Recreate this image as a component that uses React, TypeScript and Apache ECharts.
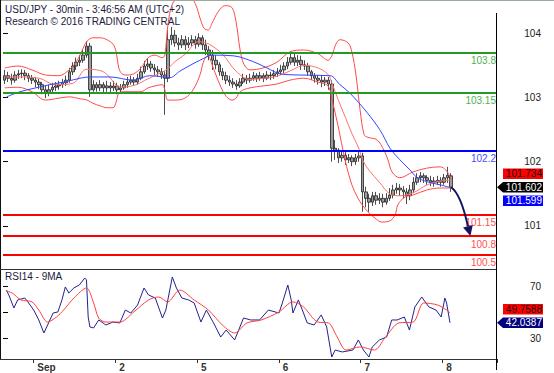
import React, { useEffect, useRef } from 'react';
import * as echarts from 'echarts';

// ---------- data ----------
const dayNames = ['Aug 31', 'Sep 1', 'Sep 2', 'Sep 5', 'Sep 6', 'Sep 7', 'Sep 8'];
const dayTickLabels = ['Sep', '2', '5', '6', '7', '8'];
const firstDayStartHour = 15;
const lastDayEndHour = 15;

// hourly bars: [open, close, low, high]
const candles = [
  [103.27, 103.34, 103.21, 103.43], [103.34, 103.30, 103.24, 103.40], [103.30, 103.27, 103.20, 103.37],
  [103.27, 103.35, 103.23, 103.41], [103.35, 103.37, 103.29, 103.43], [103.37, 103.38, 103.30, 103.44],
  [103.38, 103.34, 103.27, 103.43], [103.34, 103.30, 103.24, 103.38], [103.30, 103.27, 103.21, 103.35],
  [103.27, 103.24, 103.16, 103.32], [103.24, 103.20, 103.13, 103.29], [103.20, 103.12, 103.05, 103.24],
  [103.12, 103.07, 102.99, 103.18], [103.07, 103.12, 103.02, 103.20], [103.12, 103.16, 103.07, 103.23],
  [103.16, 103.18, 103.10, 103.24], [103.18, 103.20, 103.12, 103.26], [103.20, 103.23, 103.15, 103.29],
  [103.23, 103.27, 103.18, 103.34], [103.27, 103.40, 103.23, 103.46], [103.40, 103.49, 103.35, 103.55],
  [103.49, 103.55, 103.43, 103.62], [103.55, 103.58, 103.49, 103.66], [103.58, 103.66, 103.54, 103.74],
  [103.66, 103.80, 103.62, 103.88], [103.80, 103.12, 103.01, 103.85], [103.12, 103.20, 103.09, 103.27],
  [103.20, 103.15, 103.09, 103.24], [103.15, 103.20, 103.10, 103.27], [103.20, 103.15, 103.07, 103.24],
  [103.15, 103.18, 103.09, 103.26], [103.18, 103.15, 103.07, 103.24], [103.15, 103.18, 103.10, 103.26],
  [103.18, 103.12, 103.05, 103.23], [103.12, 103.15, 103.07, 103.21], [103.15, 103.20, 103.12, 103.26],
  [103.20, 103.24, 103.15, 103.32], [103.24, 103.27, 103.20, 103.34], [103.27, 103.24, 103.18, 103.32],
  [103.24, 103.30, 103.20, 103.37], [103.30, 103.40, 103.27, 103.48], [103.40, 103.49, 103.37, 103.57],
  [103.49, 103.52, 103.43, 103.60], [103.52, 103.46, 103.40, 103.57], [103.46, 103.43, 103.35, 103.52],
  [103.43, 103.40, 103.32, 103.49], [103.40, 103.35, 103.29, 103.46], [103.35, 103.30, 102.73, 103.41],
  [103.30, 103.90, 103.24, 104.05], [103.90, 103.97, 103.82, 104.10], [103.97, 103.85, 103.79, 104.05],
  [103.85, 103.82, 103.74, 103.93], [103.82, 103.90, 103.77, 103.97], [103.90, 103.82, 103.74, 103.96],
  [103.82, 103.85, 103.77, 103.94], [103.85, 103.90, 103.80, 103.97], [103.90, 103.83, 103.76, 103.96],
  [103.83, 103.93, 103.79, 104.00], [103.93, 103.82, 103.74, 103.97], [103.82, 103.74, 103.66, 103.90],
  [103.74, 103.66, 103.58, 103.80], [103.66, 103.58, 103.43, 103.74], [103.58, 103.51, 103.44, 103.66],
  [103.51, 103.40, 103.34, 103.55], [103.40, 103.34, 103.27, 103.46], [103.34, 103.27, 103.21, 103.40],
  [103.27, 103.24, 103.18, 103.34], [103.24, 103.21, 103.15, 103.30], [103.21, 103.18, 103.12, 103.27],
  [103.18, 103.24, 103.15, 103.30], [103.24, 103.30, 103.21, 103.37], [103.30, 103.27, 103.21, 103.35],
  [103.27, 103.30, 103.23, 103.37], [103.30, 103.34, 103.26, 103.40], [103.34, 103.30, 103.24, 103.38],
  [103.30, 103.34, 103.26, 103.40], [103.34, 103.30, 103.24, 103.38], [103.30, 103.35, 103.27, 103.41],
  [103.35, 103.34, 103.27, 103.40], [103.34, 103.37, 103.29, 103.43], [103.37, 103.40, 103.32, 103.46],
  [103.40, 103.43, 103.35, 103.51], [103.43, 103.49, 103.38, 103.55], [103.49, 103.55, 103.44, 103.63],
  [103.55, 103.62, 103.51, 103.71], [103.62, 103.55, 103.49, 103.68], [103.55, 103.58, 103.49, 103.66],
  [103.58, 103.51, 103.43, 103.65], [103.51, 103.49, 103.43, 103.58], [103.49, 103.40, 103.34, 103.54],
  [103.40, 103.34, 103.27, 103.43], [103.34, 103.30, 103.23, 103.38], [103.30, 103.27, 103.20, 103.35],
  [103.27, 103.24, 103.16, 103.34], [103.24, 103.27, 103.18, 103.32], [103.27, 103.21, 103.12, 103.32],
  [103.21, 102.21, 102.00, 103.27], [102.21, 102.18, 102.03, 102.34], [102.18, 102.06, 101.98, 102.21],
  [102.06, 102.10, 102.00, 102.17], [102.10, 102.03, 101.95, 102.15], [102.03, 102.06, 101.98, 102.12],
  [102.06, 102.00, 101.93, 102.10], [102.00, 102.06, 101.95, 102.12], [102.06, 102.09, 102.00, 102.15],
  [102.09, 101.53, 101.22, 102.14], [101.53, 101.43, 101.29, 101.61], [101.43, 101.37, 101.22, 101.50],
  [101.37, 101.47, 101.31, 101.53], [101.47, 101.40, 101.33, 101.53], [101.40, 101.43, 101.34, 101.51],
  [101.43, 101.37, 101.29, 101.50], [101.37, 101.43, 101.33, 101.51], [101.43, 101.48, 101.39, 101.59],
  [101.48, 101.56, 101.43, 101.64], [101.56, 101.59, 101.50, 101.67], [101.59, 101.56, 101.47, 101.65],
  [101.56, 101.53, 101.43, 101.62], [101.53, 101.47, 101.34, 101.59], [101.47, 101.56, 101.40, 101.64],
  [101.56, 101.68, 101.51, 101.76], [101.68, 101.75, 101.64, 101.82], [101.75, 101.78, 101.68, 101.84],
  [101.78, 101.75, 101.67, 101.82], [101.75, 101.71, 101.64, 101.79], [101.71, 101.68, 101.62, 101.78],
  [101.70, 101.68, 101.61, 101.76], [101.68, 101.71, 101.64, 101.78], [101.71, 101.68, 101.61, 101.76],
  [101.68, 101.75, 101.64, 101.81], [101.75, 101.79, 101.67, 101.92], [101.78, 101.602, 101.53, 101.82],
];

// indicator lines: [bar position (hours from first bar), value]
const bbUpper = [
  [0.5, 103.46], [4.4, 103.49], [8.5, 103.43], [12.5, 103.35], [16.4, 103.34], [19.4, 103.43], [21.4, 103.55],
  [22.6, 103.66], [23.8, 103.80], [24.7, 103.88], [26.4, 103.93], [28.5, 103.93], [30.5, 103.90], [32.3, 103.83],
  [33.2, 103.71], [34.0, 103.46], [34.9, 103.37], [36.4, 103.35], [38.4, 103.37], [40.5, 103.46], [42.6, 103.62],
  [44.6, 103.66], [46.7, 103.62], [47.5, 103.66], [48.4, 104.13], [49.6, 104.44], [51.4, 104.55], [54.9, 104.57],
  [56.6, 104.44], [57.8, 104.24], [59.0, 104.08], [60.2, 104.05], [61.3, 104.15], [63.1, 104.33], [65.2, 104.43],
  [67.2, 104.40], [68.4, 104.18], [69.6, 103.74], [70.7, 103.52], [72.5, 103.43], [76.3, 103.46], [80.4, 103.55],
  [84.2, 103.71], [88.3, 103.74], [92.5, 103.68], [95.4, 103.58], [96.6, 103.66], [97.7, 103.83], [98.9, 103.90],
  [101.3, 103.85], [102.4, 103.71], [103.6, 103.35], [104.8, 102.81], [106.0, 102.42], [107.1, 102.38],
  [109.8, 102.34], [111.8, 102.18], [113.0, 102.03], [114.2, 101.84], [116.5, 101.75], [120.3, 101.84],
  [124.4, 101.90], [128.3, 101.92], [130.0, 101.87], [131.5, 101.734],
];
const bbMiddle = [
  [0.5, 103.32], [4.4, 103.32], [10.5, 103.30], [15.5, 103.20], [20.5, 103.22], [24.5, 103.44], [28.5, 103.42],
  [30.5, 103.36], [34.5, 103.16], [38.5, 103.19], [42.5, 103.29], [46.5, 103.39], [48.4, 103.45], [50.5, 103.56],
  [53.4, 103.67], [57.5, 103.87], [60.5, 103.83], [64.5, 103.67], [68.4, 103.41], [72.5, 103.28], [76.5, 103.30],
  [80.4, 103.33], [84.5, 103.42], [88.5, 103.50], [92.5, 103.46], [95.4, 103.36], [96.5, 103.23], [98.5, 102.95],
  [100.5, 102.69], [102.4, 102.44], [104.5, 102.20], [105.5, 102.03], [107.4, 101.87], [110.5, 101.68],
  [113.5, 101.50], [116.5, 101.47], [120.5, 101.52], [124.5, 101.64], [128.4, 101.70], [131.5, 101.71],
];
const bbLower = [
  [0.5, 103.15], [4.4, 103.16], [8.5, 103.09], [12.5, 102.96], [16.4, 102.99], [19.4, 103.01], [22.6, 102.98],
  [24.7, 102.96], [26.4, 102.91], [28.5, 102.87], [30.5, 102.84], [32.3, 102.84], [33.2, 102.93], [34.0, 103.07],
  [35.5, 103.09], [38.4, 103.09], [40.5, 103.09], [42.6, 103.15], [44.6, 103.18], [46.7, 103.20], [47.5, 103.12],
  [48.4, 102.96], [50.5, 102.96], [53.4, 102.99], [55.8, 103.12], [57.8, 103.35], [59.0, 103.58], [60.2, 103.65],
  [61.3, 103.52], [63.1, 103.27], [65.2, 103.04], [67.2, 102.96], [68.4, 102.99], [69.6, 103.09], [72.5, 103.15],
  [76.3, 103.18], [80.4, 103.21], [84.2, 103.27], [88.3, 103.30], [92.5, 103.24], [95.4, 103.18], [96.6, 102.96],
  [98.3, 102.57], [100.4, 102.03], [102.4, 101.64], [104.2, 101.43], [105.4, 101.33], [107.1, 101.22],
  [109.2, 101.12], [111.2, 101.06], [113.6, 101.08], [115.1, 101.17], [115.9, 101.33], [118.0, 101.45],
  [120.3, 101.48], [124.4, 101.56], [128.3, 101.59], [131.5, 101.59],
];
const maLine = [
  [1.1, 103.01], [5.0, 103.09], [8.8, 103.14], [13.8, 103.20], [18.7, 103.25], [22.6, 103.30], [25.5, 103.32],
  [31.4, 103.32], [38.2, 103.27], [43.1, 103.34], [47.0, 103.32], [49.0, 103.31], [51.9, 103.41], [54.9, 103.50],
  [57.8, 103.58], [61.6, 103.66], [67.5, 103.65], [73.4, 103.56], [77.5, 103.46], [81.3, 103.37], [87.2, 103.35],
  [96.0, 103.34], [98.9, 103.20], [101.8, 103.07], [106.8, 102.77], [110.7, 102.49], [113.6, 102.21],
  [116.5, 102.03], [119.5, 101.87], [121.4, 101.76], [124.4, 101.69], [128.3, 101.64], [131.2, 101.599],
];
const rsi = [
  [1.0, 67.4], [1.7, 63.6], [3.2, 53.5], [4.3, 59.7], [6.4, 61.2], [7.3, 58.2], [9.0, 51.9], [10.5, 44.2],
  [12.0, 34.1], [13.1, 40.3], [14.7, 49.6], [16.1, 50.4], [17.3, 59.7], [18.3, 69.8], [19.3, 65.1], [20.8, 69],
  [22.4, 71.3], [24.0, 76.7], [24.5, 75.2], [25.0, 46.5], [25.5, 38.8], [26.6, 38], [28.1, 44.2], [30.2, 40.3],
  [32.3, 42.6], [34.3, 41.9], [35.9, 51.9], [37.5, 49.6], [39.5, 55.8], [41.4, 69], [42.7, 63.6], [44.7, 61.2],
  [46.8, 45.7], [47.8, 51.9], [49.7, 77.5], [50.9, 69], [52.5, 61.2], [54.5, 59.7], [56.1, 57.4], [58.1, 42.6],
  [59.7, 51.9], [61.8, 41.9], [63.9, 31], [65.5, 36.4], [68.0, 28.7], [70.6, 45.7], [72.7, 44.2], [75.3, 44.2],
  [77.9, 51.9], [81.0, 49.6], [82.0, 57.4], [83.6, 71.3], [84.6, 59.7], [85.1, 49.6], [86.7, 59.7], [88.2, 49.6],
  [89.3, 41.9], [91.3, 40.3], [93.4, 48.1], [95.0, 38.8], [96.5, 15.5], [97.5, 20.9], [99.6, 19.4], [102.7, 20.9],
  [104.3, 28.7], [105.8, 20.9], [107.4, 15.5], [108.4, 23.3], [110.5, 28.7], [112.6, 31], [114.1, 44.2],
  [115.7, 44.2], [117.8, 46.5], [119.3, 36.4], [120.9, 54.3], [122.9, 62], [125.0, 54.3], [127.1, 51.9],
  [128.6, 46.5], [129.7, 61.2], [130.2, 57.4], [131.2, 42.0387],
];
const rsiMa = [
  [1.0, 66.7], [2.7, 65.1], [5.3, 59.7], [8.5, 58.2], [10.5, 51.9], [13.1, 42.6], [15.7, 46.5], [17.8, 51.9],
  [20.8, 61.2], [24.5, 69], [26.6, 57.4], [28.1, 45.7], [30.2, 42.6], [34.3, 42.6], [38.4, 50.4], [42.7, 59.7],
  [45.7, 62], [48.3, 58.2], [51.9, 67.4], [56.1, 59.7], [60.3, 51.9], [64.4, 40.3], [68.0, 34.1], [71.6, 41.9],
  [75.8, 44.2], [81.0, 50.4], [85.1, 58.2], [88.2, 54.3], [92.4, 42.6], [95.5, 41.9], [98.1, 31], [100.7, 20.9],
  [104.8, 23.3], [109.0, 20.9], [112.1, 30.2], [116.2, 41.9], [120.4, 42.6], [123.5, 57.4], [127.6, 55.8],
  [130.2, 51.9], [131.2, 49.7588],
];

const levelValues = [103.8, 103.15, 102.2, 101.15, 100.8, 100.5];
const levelLabels = ['103.8', '103.15', '102.2', '101.15', '100.8', '100.5'];
const levelKinds = ['resistance', 'resistance', 'pivot', 'support', 'support', 'support'];

const priceTicks = [101, 102, 103, 104];
const rsiTicks = [30, 50, 70];
const rsiTickLabels = [30, 70];

const lastClose = 101.602;
const lastUpper = 101.734;
const lastMa = 101.599;
const lastRsi = 42.0387;
const lastRsiMa = 49.7588;
const projectionTarget = 100.8;
const projectionSlot = 137.2;

const titleLine1 = 'USD/JPY - 30min - 3:46:56 AM (UTC+2)';
const titleLine2 = 'Research © 2016 TRADING CENTRAL';
const rsiTitle = 'RSI14 - 9MA';

// ---------- categories ----------
const categories: string[] = [];
dayNames.forEach((d, k) => {
  const h0 = k === 0 ? firstDayStartHour : 0;
  const h1 = k === dayNames.length - 1 ? lastDayEndHour : 23;
  for (let h = h0; h <= h1; h++) categories.push(`${d} ${String(h).padStart(2, '0')}:00`);
});
const isDayStart = (v: string) => v.endsWith(' 00:00');
const dayLabel = (v: string) => {
  const k = dayNames.indexOf(v.slice(0, v.length - 6));
  return k >= 1 ? dayTickLabels[k - 1] : '';
};

const FONT = '"Liberation Sans", Arial, Helvetica, sans-serif';
const levelStyle: Record<string, { line: string; text: string }> = {
  resistance: { line: '#239b23', text: '#4fb24f' },
  pivot: { line: '#0000ff', text: '#4b4bff' },
  support: { line: '#ff0000', text: '#ff5050' },
};

export default function App() {
  const ref = useRef<HTMLDivElement>(null);
  useEffect(() => {
    document.body.style.margin = '0';
    if (!ref.current) return;
    const chart = echarts.init(ref.current, undefined, { renderer: 'svg' });
    const N = categories.length;
    const bandLine = (data: number[][], color: string) => ({
      type: 'line', xAxisIndex: 1, yAxisIndex: 0, data, smooth: 0.35, symbol: 'none', silent: true,
      lineStyle: { color, width: 1 }, z: 3,
    });
    const option: any = {
      animation: false,
      textStyle: { fontFamily: FONT },
      grid: [
        { left: 3, right: 57, top: 1, bottom: 104 },
        { left: 3, right: 57, top: 269, bottom: 14 },
      ],
      xAxis: [
        { type: 'category', gridIndex: 0, data: categories, boundaryGap: true, show: false },
        { type: 'value', gridIndex: 0, min: 0, max: N, show: false },
        {
          type: 'category', gridIndex: 1, data: categories, boundaryGap: true,
          axisLine: { show: false },
          axisTick: { show: true, length: 4, interval: (_i: number, v: string) => isDayStart(v), lineStyle: { color: '#333' } },
          axisLabel: {
            interval: (_i: number, v: string) => isDayStart(v), formatter: (v: string) => dayLabel(v),
            align: 'left', padding: [0, 0, 0, 2], margin: 3, fontSize: 10, fontWeight: 'bold', color: '#333',
          },
          splitLine: { show: false },
        },
        { type: 'value', gridIndex: 1, min: 0, max: N, show: false },
      ],
      yAxis: [
        {
          type: 'value', gridIndex: 0, position: 'right', min: 100.329, max: 104.503, scale: true,
          axisLine: { show: false },
          axisTick: { show: true, length: 5, customValues: priceTicks, lineStyle: { color: '#000' } },
          axisLabel: { customValues: priceTicks, align: 'right', margin: 44, fontSize: 10, color: '#222' },
          splitLine: { show: false },
        },
        { type: 'value', gridIndex: 0, min: 100.26, max: 104.646, show: false, scale: true },
        {
          type: 'value', gridIndex: 1, position: 'right', min: 13.95, max: 83.7,
          axisLine: { show: false },
          axisTick: { show: true, length: 5, customValues: rsiTicks, lineStyle: { color: '#000' } },
          axisLabel: { customValues: rsiTickLabels, align: 'right', margin: 44, fontSize: 10, color: '#222' },
          splitLine: { show: false },
        },
      ],
      series: [
        {
          type: 'candlestick', xAxisIndex: 0, yAxisIndex: 0, data: candles, barWidth: 3, silent: true,
          itemStyle: { color: '#9c9c9c', color0: '#9c9c9c', borderColor: '#202020', borderColor0: '#202020', borderWidth: 0.8 },
          z: 2,
        },
        bandLine(bbUpper, '#ff4a4a'),
        bandLine(bbMiddle, '#ff7070'),
        bandLine(bbLower, '#ff4a4a'),
        {
          type: 'line', xAxisIndex: 1, yAxisIndex: 0, data: maLine, smooth: 0.35, symbol: 'none', silent: true,
          lineStyle: { color: '#3347ff', width: 1 }, z: 4,
        },
        {
          type: 'line', xAxisIndex: 1, yAxisIndex: 1, data: [], silent: true, z: 5,
          markLine: {
            silent: true, symbol: ['none', 'none'], animation: false,
            data: levelValues.map((v, k) => ({
              yAxis: v,
              lineStyle: { color: levelStyle[levelKinds[k]].line, width: 2, type: 'solid' },
              label: {
                show: true, position: 'insideEndBottom', formatter: levelLabels[k], distance: [1, 3],
                color: levelStyle[levelKinds[k]].text, fontSize: 10, fontFamily: FONT,
              },
            })),
          },
        },
        {
          type: 'line', xAxisIndex: 3, yAxisIndex: 2, data: rsi, symbol: 'none', silent: true,
          lineStyle: { color: '#22228c', width: 1 }, z: 3,
        },
        {
          type: 'line', xAxisIndex: 3, yAxisIndex: 2, data: rsiMa, smooth: 0.3, symbol: 'none', silent: true,
          lineStyle: { color: '#ff4040', width: 1 }, z: 4,
        },
      ],
    };
    chart.setOption(option);

    // pixel positions derived from the chart's own scales
    const px = (seriesIndex: number, pt: number[]) => chart.convertToPixel({ seriesIndex }, pt) as number[];
    const lastIdx = candles.length - 1;
    const yClose = px(0, [lastIdx, lastClose])[1];
    const yUpper = px(0, [lastIdx, lastUpper])[1];
    const yMa = px(0, [lastIdx, lastMa])[1];
    const start = px(0, [lastIdx, lastClose]);
    const tip = px(5, [projectionSlot, projectionTarget]);
    const yRsi = px(6, [131.2, lastRsi])[1];
    const yRsiMa = px(6, [131.2, lastRsiMa])[1];

    const axisX = 496.5, boxL = 503, boxR = 543, bh = 10.5, gap = 13.5;
    const box = (yc: number, fill: string, textColor: string, text: string, pointer: boolean) => {
      const els: any[] = [];
      if (pointer) {
        els.push({
          type: 'polygon', z: 100,
          shape: { points: [[axisX + 0.5, yc], [boxL, yc - bh / 2], [boxR, yc - bh / 2], [boxR, yc + bh / 2], [boxL, yc + bh / 2]] },
          style: { fill },
        });
      } else {
        els.push({ type: 'rect', z: 100, shape: { x: boxL, y: yc - bh / 2, width: boxR - boxL, height: bh }, style: { fill } });
      }
      els.push({
        type: 'text', z: 101, x: boxR - 1, y: yc,
        style: { text, fill: textColor, font: `10px ${FONT}`, textAlign: 'right', align: 'right', textVerticalAlign: 'middle', verticalAlign: 'middle' },
      });
      return els;
    };

    // arrow
    const dir = [0.25, 0.968];
    const E = [tip[0] - 10 * dir[0], tip[1] - 10 * dir[1]];
    const cp1 = [start[0] + 0.35 * (E[0] - start[0]), start[1] + 0.1 * (E[1] - start[1])];
    const cp2 = [start[0] + 0.72 * (E[0] - start[0]), start[1] + 0.45 * (E[1] - start[1])];
    const perp = [dir[1], -dir[0]];

    const line = (x1: number, y1: number, x2: number, y2: number, stroke: string) => ({
      type: 'line', z: 50, shape: { x1, y1, x2, y2 }, style: { stroke, lineWidth: 1 }, silent: true,
    });

    const graphic: any[] = [
      line(0, 0.5, 554, 0.5, '#9aab9a'),
      line(0.5, 0, 0.5, 359.5, '#111'),
      line(0, 269.5, 497, 269.5, '#333'),
      line(0, 359.5, 497, 359.5, '#333'),
      line(496.5, 13, 496.5, 370, '#000'),
      { type: 'text', left: 5, top: 4, z: 60, style: { text: titleLine1, font: `10px ${FONT}`, fill: '#1b1b40' } },
      { type: 'text', left: 5, top: 16.5, z: 60, style: { text: titleLine2, font: `10px ${FONT}`, fill: '#1b1b40' } },
      { type: 'text', left: 5, top: 271, z: 60, style: { text: rsiTitle, font: `10px ${FONT}`, fill: '#1b1b40' } },
      {
        type: 'bezierCurve', z: 90,
        shape: { x1: start[0], y1: start[1], cpx1: cp1[0], cpy1: cp1[1], cpx2: cp2[0], cpy2: cp2[1], x2: E[0], y2: E[1] },
        style: { stroke: '#14145e', lineWidth: 2, fill: 'none' },
      },
      {
        type: 'polygon', z: 90,
        shape: { points: [[tip[0], tip[1]], [E[0] + 5 * perp[0], E[1] + 5 * perp[1]], [E[0] - 5 * perp[0], E[1] - 5 * perp[1]]] },
        style: { fill: '#14145e' },
      },
      ...box(yClose, '#000', '#fff', lastClose.toFixed(3), true),
      ...box(Math.min(yUpper, yClose - gap), '#ff0000', '#111', lastUpper.toFixed(3), false),
      ...box(Math.max(yMa, yClose + gap), '#0000ff', '#fff', lastMa.toFixed(3), false),
      ...box(yRsi, '#000080', '#fff', lastRsi.toFixed(4), true),
      ...box(Math.min(yRsiMa, yRsi - gap), '#ff0000', '#111', lastRsiMa.toFixed(4), false),
    ];
    chart.setOption({ graphic });

    return () => chart.dispose();
  }, []);
  return <div ref={ref} style={{ width: 554, height: 373, position: 'absolute', left: 0, top: 0, background: '#fff' }} />;
}
